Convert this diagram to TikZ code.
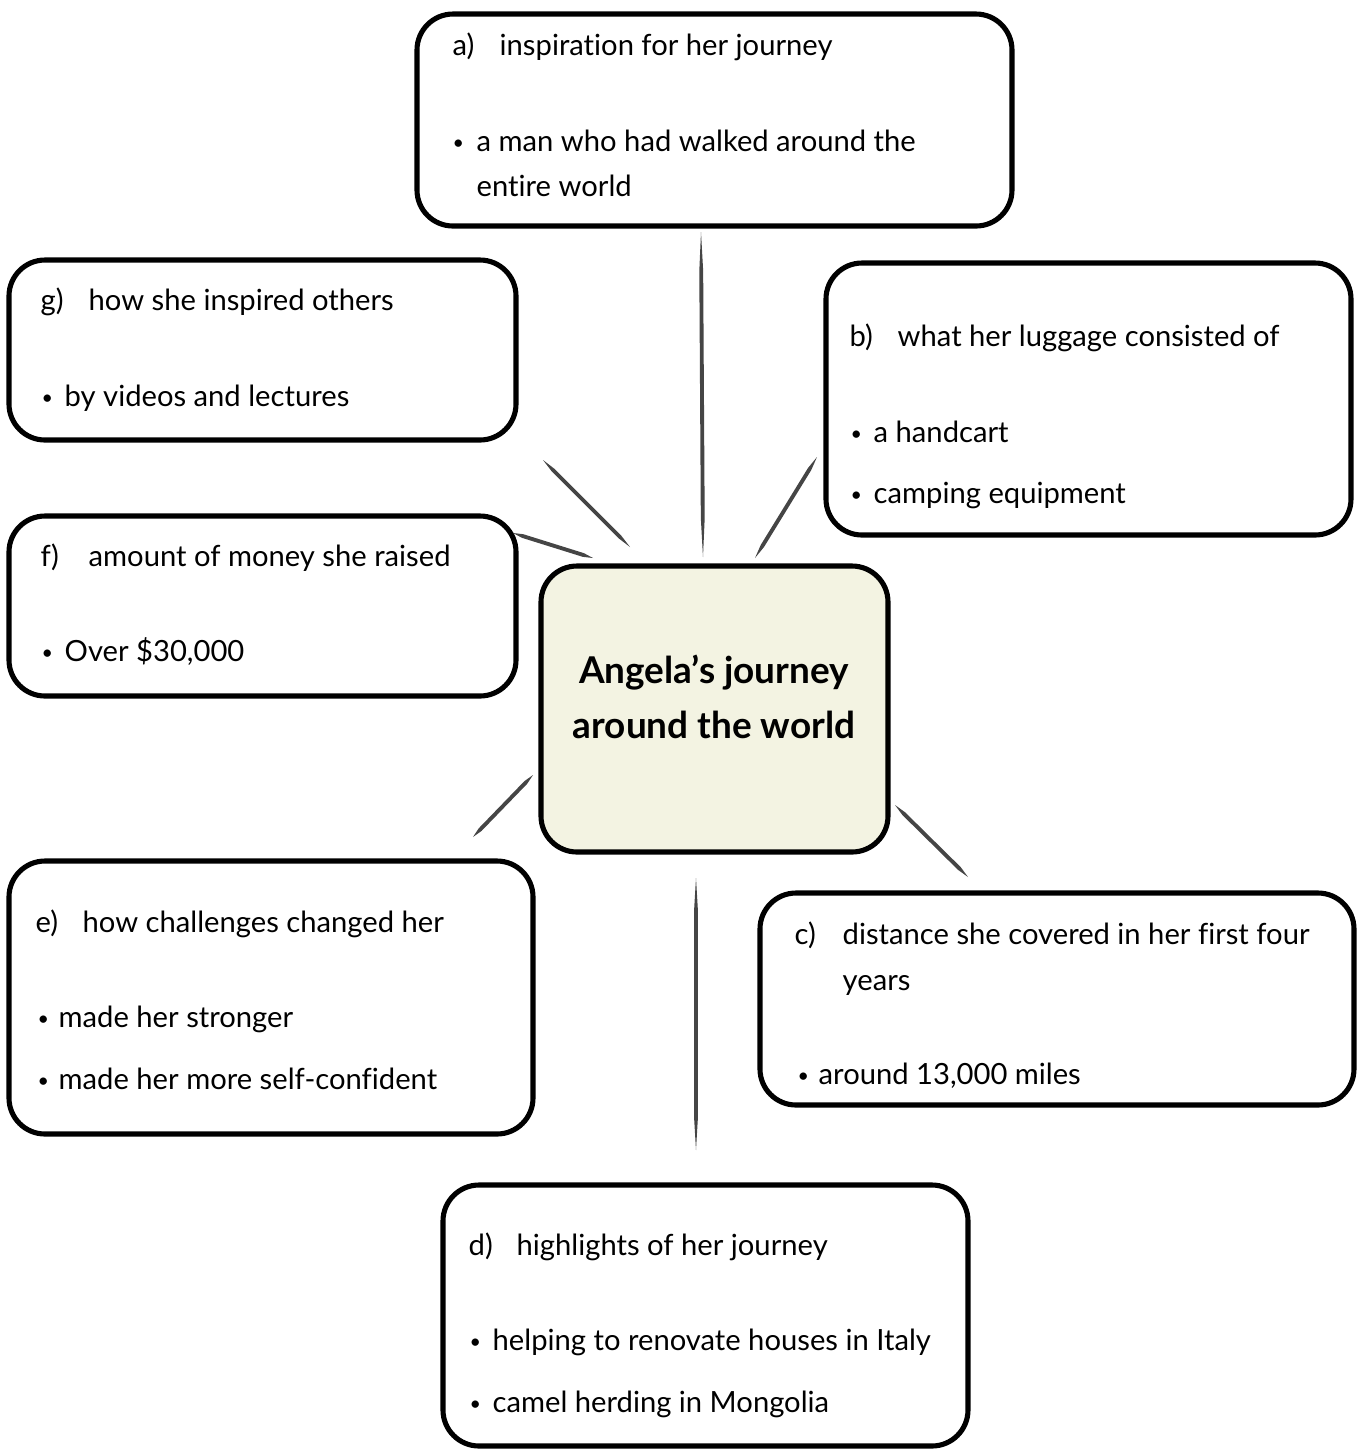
\documentclass[tikz,border=0pt]{standalone}
\usepackage{fontspec}
\setmainfont{Lato}[Ligatures={NoCommon}]
\usetikzlibrary{calc,fit}
\definecolor{centerfill}{HTML}{F3F3E2}
\definecolor{pencilc}{HTML}{454545}
\tikzset{
  topicbox/.style={draw=black, line width=1.45pt, rounded corners=0.36cm, inner sep=0pt},
  hubbox/.style={topicbox, fill=centerfill},
  lbl/.style={anchor=base west, inner sep=0pt, font=\fontsize{8.3}{9}\selectfont},
  bul/.style={anchor=base west, inner sep=0pt, font=\fontsize{5.6}{6}\selectfont},
  hubtext/.style={align=center, inner sep=0pt, font=\fontsize{10.5}{15.6}\selectfont\bfseries},
}
\newcommand\pencilline[2]{\fill[pencilc] (#1) -- ($(#1)!0.12!(#2)!0.55pt!90:(#2)$) -- ($(#1)!0.88!(#2)!0.55pt!90:(#2)$) -- (#2) -- ($(#1)!0.88!(#2)!0.55pt!-90:(#2)$) -- ($(#1)!0.12!(#2)!0.55pt!-90:(#2)$) -- cycle;}
\begin{document}
\begin{tikzpicture}[x=0.01cm,y=-0.01cm]
\useasboundingbox (0,0) rectangle (1357,1450);
% boxes
\node[topicbox, fit={(417,14) (1012,226)}] (A) {};
\node[topicbox, fit={(9,260) (516,440)}] (G) {};
\node[topicbox, fit={(826,263) (1351,535)}] (B) {};
\node[topicbox, fit={(9,516) (516,696)}] (F) {};
\node[hubbox, fit={(541,566) (888,852)}] (H) {};
\node[topicbox, fit={(9,861) (533,1134)}] (E) {};
\node[topicbox, fit={(760,893) (1354,1105)}] (C) {};
\node[topicbox, fit={(443,1185) (968,1446)}] (D) {};
% hub text
\node[hubtext] (Ht) at (714,697) {Angela’s journey\\around the world};
% a
\node[lbl] (a0) at (452,55) {a)};
\node[lbl] (a1) at (499,55) {inspiration for her journey};
\node[bul] (a2) at (452,149) {•};
\node[lbl] (a3) at (476,151) {a man who had walked around the};
\node[lbl] (a4) at (476,196) {entire world};
% g
\node[lbl] (g0) at (40,310) {g)};
\node[lbl] (g1) at (88,310) {how she inspired others};
\node[bul] (g2) at (41,404) {•};
\node[lbl] (g3) at (64,406) {by videos and lectures};
% b
\node[lbl] (b0) at (849,346) {b)};
\node[lbl] (b1) at (897,346) {what her luggage consisted of};
\node[bul] (b2) at (850,440) {•};
\node[lbl] (b3) at (873,442) {a handcart};
\node[bul] (b4) at (850,501) {•};
\node[lbl] (b5) at (873,503) {camping equipment};
% f
\node[lbl] (f0) at (40,566) {f)};
\node[lbl] (f1) at (88,566) {amount of money she raised};
\node[bul] (f2) at (41,659) {•};
\node[lbl] (f3) at (64,661) {Over \$30,000};
% e
\node[lbl] (e0) at (35,932) {e)};
\node[lbl] (e1) at (82,932) {how challenges changed her};
\node[bul] (e2) at (37,1025) {•};
\node[lbl] (e3) at (58,1027) {made her stronger};
\node[bul] (e4) at (37,1087) {•};
\node[lbl] (e5) at (58,1089) {made her more self-confident};
% c
\node[lbl] (c0) at (794,944) {c)};
\node[lbl] (c1) at (842,944) {distance she covered in her first four};
\node[lbl] (c2) at (842,990) {years};
\node[bul] (c3) at (797,1082) {•};
\node[lbl] (c4) at (818,1084) {around 13,000 miles};
% d
\node[lbl] (d0) at (468,1255) {d)};
\node[lbl] (d1) at (516,1255) {highlights of her journey};
\node[bul] (d2) at (469,1348) {•};
\node[lbl] (d3) at (492,1350) {helping to renovate houses in Italy};
\node[bul] (d4) at (469,1410) {•};
\node[lbl] (d5) at (492,1412) {camel herding in Mongolia};
% connector ends
\coordinate (pa1) at (701,232); \coordinate (pa2) at (703,557);
\coordinate (pg1) at (543,460); \coordinate (pg2) at (630,547);
\coordinate (pf1) at (513,533); \coordinate (pf2) at (593,558);
\coordinate (pb1) at (817,457); \coordinate (pb2) at (755,558);
\coordinate (pe1) at (533,775); \coordinate (pe2) at (473,837);
\coordinate (pc1) at (895,805); \coordinate (pc2) at (968,877);
\coordinate (pd1) at (696,878); \coordinate (pd2) at (696,1150);
\pencilline{pa1}{pa2}
\pencilline{pg1}{pg2}
\pencilline{pf1}{pf2}
\pencilline{pb1}{pb2}
\pencilline{pe1}{pe2}
\pencilline{pc1}{pc2}
\pencilline{pd1}{pd2}
\end{tikzpicture}
\end{document}
